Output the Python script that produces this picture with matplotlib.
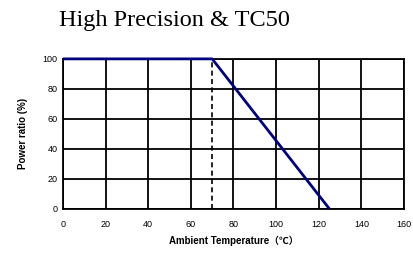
import numpy as np
import matplotlib
matplotlib.use('Agg')
import matplotlib.pyplot as plt

# Données de la courbe de déclassement
temp = [0, 70, 125]
power = [100, 100, 0]
knee_temp = 70
xticks = [0, 20, 40, 60, 80, 100, 120, 140, 160]
yticks = [0, 20, 40, 60, 80, 100]

fig = plt.figure(figsize=(4.14, 2.56), dpi=100)
ax = fig.add_axes([0.152, 0.184, 0.824, 0.586])

ax.set_xlim(0, 160)
ax.set_ylim(0, 100)
ax.set_xticks(xticks)
ax.set_yticks(yticks)
ax.grid(True, color='black', linewidth=1.3)
for s in ax.spines.values():
    s.set_linewidth(1.3)
ax.tick_params(length=0, pad=8, labelsize=6.5)
for lab in ax.get_xticklabels() + ax.get_yticklabels():
    lab.set_family('Liberation Sans')
ax.tick_params(axis='y', pad=4)

ax.plot([knee_temp, knee_temp], [0, 100], color='black', linestyle=(0, (3, 2)), linewidth=1.2)
ax.plot(temp, power, color='#000080', linewidth=2, solid_capstyle='butt', clip_on=False, zorder=5)

ax.set_xlabel('Ambient Temperature（℃）', fontsize=7, fontweight='bold',
              family=['Liberation Sans', 'Noto Sans CJK SC'], labelpad=5)
ax.set_ylabel('Power ratio (%)', fontsize=7, fontweight='bold',
              family='Liberation Sans', labelpad=10)

fig.text(0.422, 0.918, 'High Precision & TC50', fontsize=17.5, family='Liberation Serif',
         ha='center', va='center')

fig.savefig('out.png', dpi=100)
